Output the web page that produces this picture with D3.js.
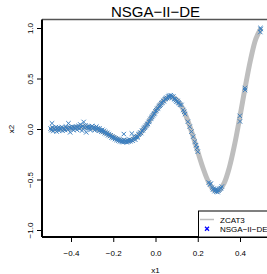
<!DOCTYPE html>
<html>
<head>
<meta charset="utf-8">
<script src="https://cdn.jsdelivr.net/npm/d3@7"></script>
<style>
  body { margin: 0; background: #fff; }
  text { font-family: 'Liberation Sans', Arial, Helvetica, sans-serif; }
</style>
</head>
<body>
<div id="root"></div>
<script>
const width = 267
const height = 274

// ZCAT3 reference curve
const frontX1 = [-0.5, -0.475, -0.45, -0.425, -0.4, -0.375, -0.35, -0.325, -0.3, -0.275, -0.25, -0.225, -0.2, -0.175, -0.15, -0.125, -0.1, -0.075, -0.05, -0.025,
  0, 0.025, 0.05, 0.075, 0.1, 0.125, 0.15, 0.175, 0.2, 0.225, 0.25, 0.275, 0.3, 0.325, 0.35, 0.375, 0.4, 0.425, 0.45, 0.475, 0.5]
const frontX2 = [0, 0, 0.002, 0.005, 0.01, 0.015, 0.019, 0.019, 0.012, -0.002, -0.024, -0.051, -0.08, -0.105, -0.119, -0.117, -0.094, -0.049, 0.016, 0.095,
  0.177, 0.25, 0.302, 0.318, 0.291, 0.217, 0.099, -0.054, -0.223, -0.386, -0.52, -0.6, -0.609, -0.535, -0.378, -0.149, 0.127, 0.418, 0.686, 0.892, 1.0]

// NSGA-II-DE solutions [x1, x2]
const solutions = [
  [-0.497, 0.004], [-0.493, -0.012], [-0.49, 0.056], [-0.487, 0.015], [-0.484, -0.02], [-0.48, 0.006], [-0.476, -0.008], [-0.472, 0.018],
  [-0.468, -0.025], [-0.465, 0.002], [-0.461, 0.012], [-0.457, -0.015], [-0.452, 0.008], [-0.448, -0.004], [-0.444, 0.02], [-0.44, -0.018],
  [-0.436, 0.01], [-0.432, 0.001], [-0.428, -0.01], [-0.424, 0.024], [-0.42, 0.009], [-0.416, -0.006], [-0.412, 0.056], [-0.408, 0.014],
  [-0.404, -0.033], [-0.4, 0.012], [-0.396, 0.003], [-0.392, 0.022], [-0.388, -0.012], [-0.384, 0.017], [-0.38, 0.006], [-0.376, 0.025],
  [-0.372, -0.008], [-0.368, 0.014], [-0.364, 0.03], [-0.36, 0.002], [-0.356, 0.045], [-0.352, 0.019], [-0.348, -0.016], [-0.344, 0.028],
  [-0.34, 0.07], [-0.336, 0.01], [-0.332, 0.035], [-0.328, -0.033], [-0.324, 0.02], [-0.32, 0.006], [-0.316, 0.026], [-0.312, 0.012],
  [-0.308, -0.01], [-0.304, 0.022], [-0.3, 0.03], [-0.296, 0.005], [-0.292, 0.018], [-0.288, -0.012], [-0.284, 0.01], [-0.28, 0.024],
  [-0.276, -0.004], [-0.272, 0.008], [-0.268, -0.018], [-0.264, 0.004], [-0.26, -0.012], [-0.256, -0.026], [-0.252, -0.008], [-0.248, -0.03],
  [-0.244, -0.018], [-0.24, -0.042], [-0.236, -0.03], [-0.232, -0.05], [-0.228, -0.038], [-0.224, -0.062], [-0.22, -0.052], [-0.216, -0.07],
  [-0.212, -0.062], [-0.208, -0.085], [-0.204, -0.074], [-0.2, -0.09], [-0.196, -0.082], [-0.192, -0.1], [-0.188, -0.092], [-0.184, -0.108],
  [-0.18, -0.098], [-0.176, -0.115], [-0.172, -0.105], [-0.168, -0.122], [-0.164, -0.11], [-0.16, -0.128], [-0.156, -0.115], [-0.152, -0.13],
  [-0.15, -0.05], [-0.148, -0.108], [-0.144, -0.125], [-0.14, -0.118], [-0.136, -0.132], [-0.132, -0.112], [-0.128, -0.126], [-0.124, -0.104],
  [-0.12, -0.122], [-0.116, -0.11], [-0.112, -0.045], [-0.108, -0.115], [-0.104, -0.1], [-0.1, -0.085], [-0.096, -0.105], [-0.092, -0.08],
  [-0.088, -0.07], [-0.084, -0.082], [-0.08, -0.055], [-0.076, -0.048], [-0.072, -0.035], [-0.068, -0.04], [-0.064, -0.018], [-0.06, -0.012],
  [-0.056, 0.002], [-0.052, 0.012], [-0.048, 0.02], [-0.044, 0.034], [-0.04, 0.045], [-0.036, 0.05], [-0.032, 0.07], [-0.028, 0.08],
  [-0.024, 0.1], [-0.02, 0.11], [-0.016, 0.12], [-0.012, 0.135], [-0.008, 0.148], [-0.004, 0.155], [0.0, 0.175], [0.004, 0.185],
  [0.008, 0.2], [0.012, 0.205], [0.016, 0.222], [0.02, 0.23], [0.024, 0.24], [0.028, 0.255], [0.032, 0.262], [0.036, 0.28],
  [0.04, 0.275], [0.044, 0.295], [0.048, 0.3], [0.052, 0.31], [0.056, 0.305], [0.06, 0.322], [0.064, 0.33], [0.068, 0.315],
  [0.072, 0.335], [0.076, 0.325], [0.08, 0.31], [0.084, 0.322], [0.088, 0.3], [0.092, 0.295], [0.096, 0.285], [0.1, 0.27],
  [0.104, 0.278], [0.108, 0.262], [0.112, 0.255], [0.116, 0.24], [0.123, 0.238], [0.131, 0.188], [0.136, 0.17], [0.14, 0.148],
  [0.153, 0.072], [0.162, 0.023], [0.17, -0.026], [0.178, -0.076], [0.186, -0.125], [0.192, -0.16], [0.196, -0.19], [0.2, -0.225],
  [0.252, -0.53], [0.258, -0.55], [0.262, -0.54], [0.268, -0.58], [0.272, -0.6], [0.276, -0.59], [0.28, -0.615], [0.284, -0.6],
  [0.288, -0.62], [0.29, -0.6], [0.294, -0.625], [0.298, -0.61], [0.302, -0.6], [0.306, -0.59], [0.31, -0.585], [0.314, -0.57],
  [0.399, 0.13], [0.4, 0.075], [0.423, 0.406], [0.424, 0.386], [0.497, 1.0], [0.498, 0.99], [0.496, 0.96]
]

const xTicks = [-0.4, -0.2, 0, 0.2, 0.4]
const yTicks = [-1, -0.5, 0, 0.5, 1]
const legendLabels = ['ZCAT3', 'NSGA\u2212II\u2212DE']

const plotLeft = 42
const plotBottom = 237
const plotTop = 19.5

const x = d3.scaleLinear().domain([-0.4, 0.4]).range([71, 240])
const y = d3.scaleLinear().domain([-1, 1]).range([230, 28])
const fmt = (d) => d3.format('.1f')(d)

const svg = d3.select('#root').append('svg').attr('width', width).attr('height', height)

// reference front
const line = d3.line().x((d, i) => x(frontX1[i])).y((d) => y(d)).curve(d3.curveCatmullRom)
svg.append('path')
  .datum(frontX2)
  .attr('d', line)
  .attr('fill', 'none')
  .attr('stroke', '#bebebe')
  .attr('stroke-width', 5)

// solutions as crosses
const s = 2.2
svg.append('g')
  .attr('stroke', '#3b7fc0')
  .attr('stroke-width', 1)
  .selectAll('path')
  .data(solutions)
  .join('path')
  .attr('d', (d) => {
    const px = x(d[0])
    const py = y(d[1])
    return `M${px - s},${py - s}L${px + s},${py + s}M${px - s},${py + s}L${px + s},${py - s}`
  })

// box
svg.append('line').attr('x1', plotLeft).attr('x2', width).attr('y1', plotTop).attr('y2', plotTop)
  .attr('stroke', '#555').attr('stroke-width', 1.5)
svg.append('line').attr('x1', plotLeft).attr('x2', plotLeft).attr('y1', plotTop).attr('y2', plotBottom)
  .attr('stroke', '#000').attr('stroke-width', 2)
svg.append('line').attr('x1', plotLeft).attr('x2', width).attr('y1', plotBottom).attr('y2', plotBottom)
  .attr('stroke', '#000').attr('stroke-width', 2)

// axes
const xAxis = svg.append('g')
  .attr('transform', `translate(0,${plotBottom})`)
  .call(d3.axisBottom(x).tickValues(xTicks).tickSize(5).tickFormat(fmt))
xAxis.select('.domain').remove()
xAxis.selectAll('text').attr('y', 13).attr('font-size', 8).attr('fill', '#000')

const yAxis = svg.append('g')
  .attr('transform', `translate(${plotLeft},0)`)
  .call(d3.axisLeft(y).tickValues(yTicks).tickSize(5).tickFormat(fmt))
yAxis.select('.domain').remove()
yAxis.selectAll('text')
  .attr('x', 0).attr('dy', 0)
  .attr('text-anchor', 'middle')
  .attr('transform', 'translate(-9,0) rotate(-90)')
  .attr('font-size', 8).attr('fill', '#000')

// titles
svg.append('text').attr('x', 155.5).attr('y', 17).attr('text-anchor', 'middle')
  .attr('font-size', 15).text('NSGA\u2212II\u2212DE')
svg.append('text').attr('x', 155.5).attr('y', 273).attr('text-anchor', 'middle')
  .attr('font-size', 8).text('x1')
svg.append('text').attr('transform', 'translate(13.5,129) rotate(-90)').attr('text-anchor', 'middle')
  .attr('font-size', 8).text('x2')

// legend
const lg = svg.append('g')
lg.append('rect').attr('x', 198.5).attr('y', 211).attr('width', 80).attr('height', plotBottom - 211)
  .attr('fill', '#fff').attr('stroke', '#000').attr('stroke-width', 1)
lg.append('line').attr('x1', 200).attr('x2', 214).attr('y1', 219.5).attr('y2', 219.5)
  .attr('stroke', '#bebebe').attr('stroke-width', 1.5)
lg.append('path')
  .attr('d', `M${207 - 2},${228.7 - 2}L${207 + 2},${228.7 + 2}M${207 - 2},${228.7 + 2}L${207 + 2},${228.7 - 2}`)
  .attr('stroke', '#0000ff').attr('stroke-width', 1.3)
lg.selectAll('text.lab')
  .data(legendLabels)
  .join('text')
  .attr('class', 'lab')
  .attr('x', 220)
  .attr('y', (d, i) => 222.5 + i * 9)
  .attr('font-size', 8)
  .text((d) => d)
</script>
</body>
</html>
